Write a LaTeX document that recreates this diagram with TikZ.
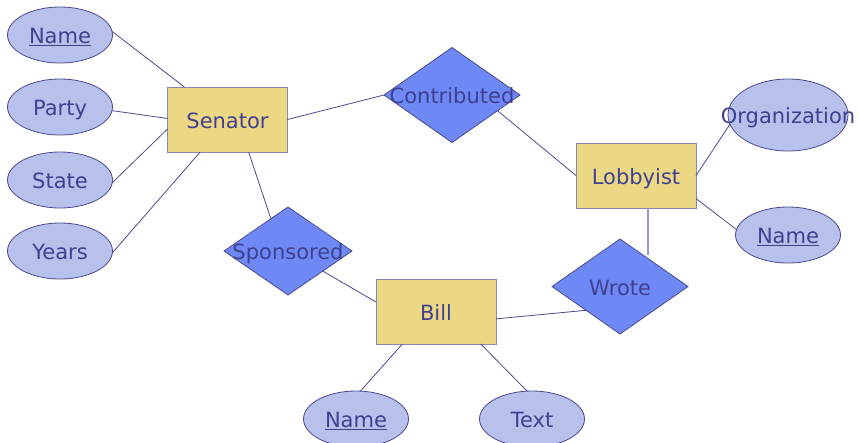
\documentclass[tikz,border=0pt]{standalone}
\usepackage{fontspec}
\setmainfont{DejaVu Sans}
\usetikzlibrary{shapes.geometric}
\definecolor{txtc}{HTML}{404090}
\definecolor{linec}{HTML}{4A4A90}
\definecolor{ellfill}{HTML}{B8C0EC}
\definecolor{diafill}{HTML}{6E88F5}
\definecolor{rectfill}{HTML}{EBD784}
\definecolor{rectline}{HTML}{8888B8}
\definecolor{weakline}{HTML}{9A9AD0}
\tikzset{
  base/.style={inner sep=0pt, outer sep=0pt, text=txtc, font=\fontsize{21}{25}\selectfont, line width=0.8pt},
  attr/.style={base, ellipse, fill=ellfill, draw=linec, minimum width=105pt, minimum height=56pt},
  rel/.style={base, diamond, fill=diafill, draw=linec, minimum width=136pt, minimum height=95pt},
  ent/.style={base, rectangle, fill=rectfill, draw=rectline, minimum width=120pt, minimum height=65pt},
  conn/.style={draw=linec, line width=0.8pt},
  weak/.style={draw=weakline, line width=1.8pt},
}
\newcommand{\zb}[1]{\raisebox{-8.8pt}[0pt][0pt]{\makebox[0pt]{#1}}}
\begin{document}
\begin{tikzpicture}[x=1pt,y=-1pt]
\useasboundingbox (0,0) rectangle (858,442);
% entities
\node[ent] (senator) at (227.5,119.5) {\zb{Senator}};
\node[ent] (lobby) at (636,175.5) {\zb{Lobbyist}};
\node[ent] (bill) at (436,311.5) {\zb{Bill}};
% relationships
\node[rel] (contrib) at (452,95) {\zb{Contributed}};
\node[rel, minimum width=128pt, minimum height=88pt] (spons) at (288,251) {\zb{Sponsored}};
\node[rel] (wrote) at (620,286.5) {\zb{Wrote}};
% attributes
\node[attr] (sname) at (60,35) {\zb{\underline{Name}}};
\node[attr] (party) at (60,107) {\zb{Party}};
\node[attr] (state) at (60,180) {\zb{State}};
\node[attr] (years) at (60,251) {\zb{Years}};
\node[attr, minimum width=120pt, minimum height=72pt] (org) at (788,115) {\zb{Organization}};
\node[attr] (lname) at (788,235) {\zb{\underline{Name}}};
\node[attr] (bname) at (356,419) {\zb{\underline{Name}}};
\node[attr] (btext) at (532,419) {\zb{Text}};
% connectors
\draw[conn] (sname.4.4) -- (senator.143.2);
\draw[conn] (party.-4.4) -- (senator.179);
\draw[conn] (state.-3.3) -- (senator.-171.9);
\draw[conn] (years.-2) -- (senator.-130.2);
\draw[conn] (senator.-0.5) -- (contrib.180);
\draw[conn] (contrib.-19.6) -- (lobby.180);
\draw[conn] (senator.-57.8) -- (spons.118.9);
\draw[conn] (spons.-30.5) -- (bill.171);
\draw[conn] (bill.-7.1) -- (wrote.215);
\draw[weak] ([xshift=12pt]lobby.south) -- ([xshift=28pt,yshift=-16pt]wrote.north);
\draw[conn] (lobby.0) -- (org.189);
\draw[conn] (lobby.-21.4) -- (lname.174.5);
\draw[conn] (bill.-136.3) -- (bname.81.9);
\draw[conn] (bill.-36.4) -- (btext.100.9);
\end{tikzpicture}
\end{document}
